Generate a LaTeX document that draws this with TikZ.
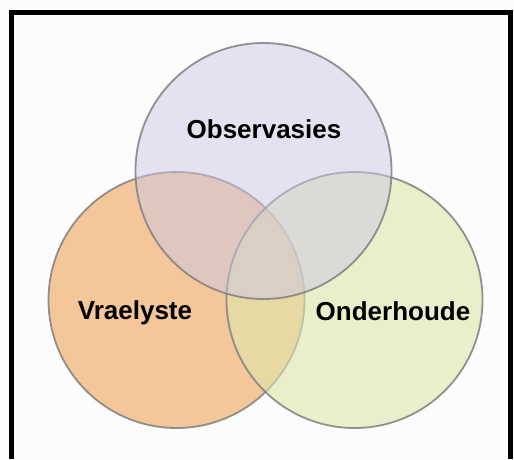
\documentclass[tikz,border=0pt]{standalone}
\usepackage{fontspec}
\setmainfont{Liberation Sans}
\definecolor{bgc}{RGB}{252,252,252}
\definecolor{lav}{RGB}{205,199,229}
\definecolor{org}{RGB}{238,165,87}
\definecolor{grn}{RGB}{222,230,170}
\definecolor{rim}{RGB}{128,128,128}
\tikzset{
  venn/.style={circle, minimum size=256pt, inner sep=0pt, fill opacity=0.6, draw=rim, draw opacity=0.85, line width=1.8pt},
  lbl/.style={font=\fontsize{26}{30}\selectfont\bfseries, text=black, inner sep=0pt}
}
\begin{document}
\begin{tikzpicture}[x=1pt,y=-1pt]
\fill[bgc] (0,0) rectangle (514,459);
\useasboundingbox (0,0) rectangle (514,459);
\draw[line width=5pt, black] (11.5,459) -- (11.5,12.5) -- (510.5,12.5) -- (510.5,459);
\node[venn, fill=org] (vra) at (176.5,300) {};
\node[venn, fill=grn] (ond) at (354.5,300) {};
\node[venn, fill=lav, fill opacity=0.5] (obs) at (263.5,171) {};
\node[lbl] (tobs) at (264,129) {Observasies};
\node[lbl] (tvra) at (135,313) {Vraelyste};
\node[lbl] (tond) at (393,311) {Onderhoude};
\end{tikzpicture}
\end{document}
